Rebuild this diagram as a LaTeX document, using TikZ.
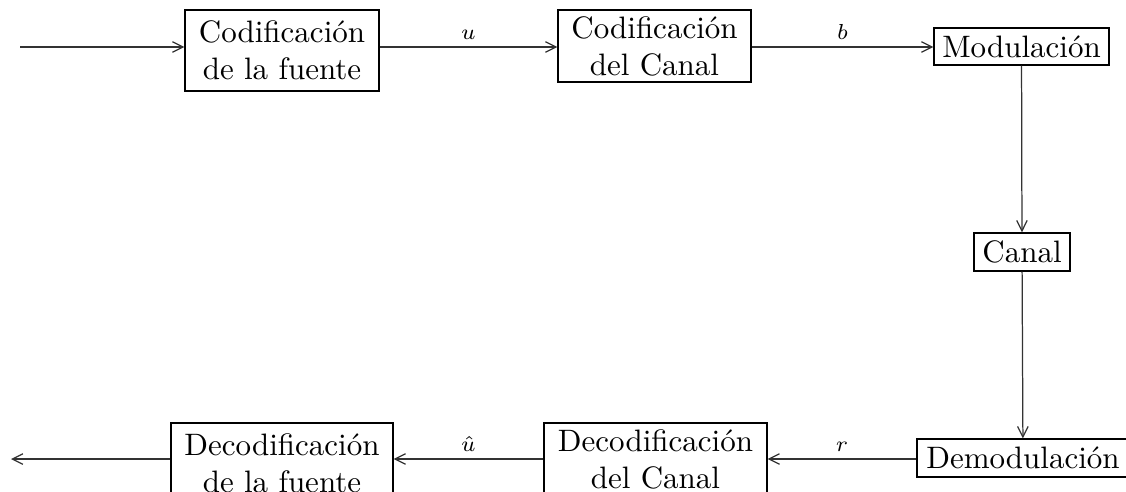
\documentclass[tikz,border=0pt]{standalone}
\usetikzlibrary{arrows.meta}
\begin{document}
\begin{tikzpicture}[x=0.3226pt,y=-0.3226pt,
  blk/.style={draw, inner sep=0pt, align=center, font=\normalsize},
  lbl/.style={font=\scriptsize, inner sep=0pt, above=2.3pt},
  conn/.style={-{Straight Barb[length=3.4pt,width=3.4pt]}, line width=0.4pt, draw=black!80}]
\useasboundingbox (0,0) rectangle (1126,491);
% blocks
\node[blk, minimum width=62.6pt, minimum height=26.1pt] (cf) at (282,50.5) {Codificación\\de la fuente};
\node[blk, minimum width=62.3pt, minimum height=23.2pt] (cc) at (654.5,46) {Codificación\\del Canal};
\node[blk, minimum width=56.5pt, minimum height=11.9pt] (mod) at (1021.5,46.5) {Modulación};
\node[blk, minimum width=31pt, minimum height=12.3pt] (can) at (1022,252) {Canal};
\node[blk, minimum width=68.4pt, minimum height=12.3pt] (dem) at (1023,458) {Demodulación};
\node[blk, minimum width=71.9pt, minimum height=23.2pt] (dc) at (655.5,459) {Decodificación\\del Canal};
\node[blk, minimum width=71.6pt, minimum height=26.1pt] (df) at (282,463.5) {Decodificación\\de la fuente};
\coordinate (in) at (20,47);
\coordinate (out) at (11,459);
% connectors
\draw[conn] (in) -- (in -| cf.west);
\draw[conn] (in -| cf.east) -- node[lbl] {$u$} (in -| cc.west);
\draw[conn] (in -| cc.east) -- node[lbl] {$b$} (in -| mod.west);
\draw[conn] (mod) -- (can);
\draw[conn] (can) -- (dem);
\draw[conn] (dem.west |- out) -- node[lbl] {$r$} (dc.east |- out);
\draw[conn] (dc.west |- out) -- node[lbl] {$\hat{u}$} (df.east |- out);
\draw[conn] (df.west |- out) -- (out);
\end{tikzpicture}
\end{document}
